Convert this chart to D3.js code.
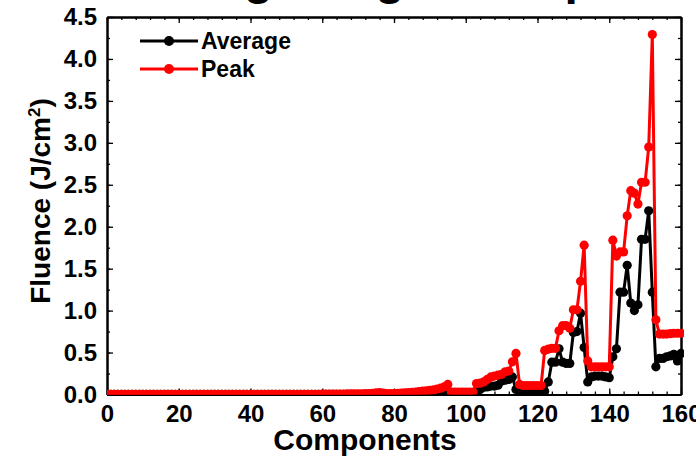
<!DOCTYPE html>
<html><head><meta charset="utf-8">
<script src="https://cdn.jsdelivr.net/npm/d3@7"></script>
<style>
body{margin:0;background:#fff}
svg{display:block}
text{font-family:Arial,"Liberation Sans",sans-serif;font-weight:bold;fill:#000}
</style>
</head><body>
<svg id="chart" width="696" height="457"></svg>
<script>
// ---- data ----
const components = d3.range(0, 161);
const average = [
 0.001,0.001,0.001,0.001,0.001,0.001,0.001,0.001,0.001,0.001,
 0.001,0.001,0.001,0.001,0.001,0.001,0.001,0.001,0.001,0.001,
 0.001,0.001,0.001,0.001,0.001,0.001,0.001,0.001,0.001,0.001,
 0.001,0.001,0.001,0.001,0.001,0.001,0.001,0.001,0.001,0.001,
 0.001,0.001,0.001,0.001,0.001,0.001,0.001,0.001,0.001,0.001,
 0.001,0.001,0.001,0.001,0.001,0.001,0.001,0.001,0.001,0.001,
 0.001,0.001,0.001,0.001,0.001,0.001,0.001,0.001,0.001,0.001,
 0.001,0.001,0.001,0.002,0.003,0.004,0.004,0.003,0.002,0.002,
 0.002,0.003,0.004,0.005,0.006,0.007,0.008,0.009,0.010,0.011,
 0.012,0.015,0.020,0.025,0.030,0.040,0.005,0.005,0.005,0.005,
 0.005,0.005,0.005,0.040,0.060,0.085,0.090,0.100,0.100,0.110,
 0.160,0.170,0.180,0.210,0.060,0.040,0.040,0.040,0.040,0.040,
 0.040,0.040,0.040,0.150,0.385,0.385,0.545,0.385,0.370,0.370,
 0.740,0.750,0.970,0.560,0.150,0.210,0.220,0.220,0.220,0.210,
 0.200,0.450,0.545,1.220,1.220,1.540,1.090,1.000,1.070,1.850,
 1.850,2.190,1.220,0.330,0.430,0.430,0.450,0.460,0.480,0.400,
 0.490
];
const peak = [
 0.003,0.003,0.003,0.003,0.003,0.003,0.003,0.003,0.003,0.003,
 0.003,0.003,0.003,0.003,0.003,0.003,0.003,0.003,0.003,0.003,
 0.003,0.003,0.003,0.003,0.003,0.003,0.003,0.003,0.003,0.003,
 0.003,0.003,0.003,0.003,0.003,0.003,0.003,0.003,0.003,0.003,
 0.003,0.003,0.003,0.003,0.003,0.003,0.003,0.003,0.003,0.003,
 0.003,0.003,0.003,0.003,0.003,0.003,0.003,0.003,0.003,0.003,
 0.004,0.004,0.005,0.005,0.005,0.006,0.006,0.007,0.007,0.008,
 0.008,0.009,0.010,0.012,0.015,0.020,0.022,0.018,0.012,0.010,
 0.012,0.015,0.018,0.020,0.022,0.025,0.030,0.035,0.040,0.045,
 0.050,0.055,0.065,0.075,0.090,0.120,0.030,0.030,0.030,0.030,
 0.030,0.030,0.030,0.130,0.135,0.150,0.180,0.210,0.220,0.230,
 0.240,0.270,0.280,0.390,0.490,0.120,0.107,0.107,0.107,0.107,
 0.107,0.107,0.525,0.540,0.550,0.550,0.760,0.820,0.820,0.790,
 1.010,1.010,1.350,1.780,0.400,0.330,0.330,0.330,0.330,0.330,
 0.330,1.840,1.650,1.700,1.700,2.130,2.430,2.400,2.270,2.530,
 2.530,2.950,4.290,0.890,0.720,0.720,0.720,0.725,0.730,0.730,
 0.730
];
const seriesNames = ["Average", "Peak"];
const seriesColors = ["#000000", "#ff0000"];
const xMajorTicks = [0, 20, 40, 60, 80, 100, 120, 140, 160];
const yMajorTicks = [0, 0.5, 1.0, 1.5, 2.0, 2.5, 3.0, 3.5, 4.0, 4.5];
const xTitle = "Components";
const titleText = "Large Angle Components";

// ---- layout ----
const L = 107, R = 681, T = 17, B = 394.5;
const svg = d3.select("#chart");
const x = d3.scaleLinear().domain([0, 160]).range([L, R]);
const y = d3.scaleLinear().domain([0, 4.5]).range([B, T]);
const xMinor = d3.range(0, 161, 4);
const yMinor = d3.range(0, 4.51, 0.25);

// title, mostly above the top edge (only its descenders show)
svg.append("text").attr("x", 169).attr("y", -6).attr("text-anchor", "start")
  .style("font-size", "48px").text(titleText);

svg.append("defs").append("clipPath").attr("id", "clip")
  .append("rect").attr("x", L).attr("y", T - 6).attr("width", R - L + 3).attr("height", B - T + 6);

function styleAxis(g) {
  g.selectAll("path.domain").attr("stroke", "#000").attr("stroke-width", 2);
  g.selectAll(".tick line").attr("stroke", "#000").attr("stroke-width", 1.3);
}
// minor ticks
svg.append("g").attr("transform", `translate(0,${B})`)
  .call(d3.axisBottom(x).tickValues(xMinor).tickSize(-3).tickSizeOuter(0).tickFormat(""))
  .call(styleAxis);
svg.append("g").attr("transform", `translate(0,${T})`)
  .call(d3.axisTop(x).tickValues(xMinor).tickSize(-3).tickSizeOuter(0).tickFormat(""))
  .call(styleAxis);
svg.append("g").attr("transform", `translate(${L},0)`)
  .call(d3.axisLeft(y).tickValues(yMinor).tickSize(-3).tickSizeOuter(0).tickFormat(""))
  .call(styleAxis);
svg.append("g").attr("transform", `translate(${R},0)`)
  .call(d3.axisRight(y).tickValues(yMinor).tickSize(-3).tickSizeOuter(0).tickFormat(""))
  .call(styleAxis);

// major ticks + labels
const gx = svg.append("g").attr("transform", `translate(0,${B})`)
  .call(d3.axisBottom(x).tickValues(xMajorTicks).tickSize(-6).tickSizeOuter(0).tickPadding(10).tickFormat(d3.format("d")))
  .call(styleAxis);
gx.selectAll("text").style("font-size", "24px").style("font-family", "Arial, 'Liberation Sans', sans-serif").style("font-weight", "bold").attr("fill", "#000");
svg.append("g").attr("transform", `translate(0,${T})`)
  .call(d3.axisTop(x).tickValues(xMajorTicks).tickSize(-6).tickSizeOuter(0).tickFormat(""))
  .call(styleAxis);
const gy = svg.append("g").attr("transform", `translate(${L},0)`)
  .call(d3.axisLeft(y).tickValues(yMajorTicks).tickSize(-6).tickSizeOuter(0).tickPadding(10).tickFormat(d3.format(".1f")))
  .call(styleAxis);
gy.selectAll("text").style("font-size", "24px").style("font-family", "Arial, 'Liberation Sans', sans-serif").style("font-weight", "bold").attr("fill", "#000");
svg.append("g").attr("transform", `translate(${R},0)`)
  .call(d3.axisRight(y).tickValues(yMajorTicks).tickSize(-6).tickSizeOuter(0).tickFormat(""))
  .call(styleAxis);

// series
const seriesData = [average, peak];
const plot = svg.append("g").attr("clip-path", "url(#clip)");
const line = d3.line().x((d, i) => x(components[i])).y(d => y(d));
seriesData.forEach((vals, si) => {
  const g = plot.append("g");
  g.append("path").datum(vals).attr("d", line)
    .attr("fill", "none").attr("stroke", seriesColors[si]).attr("stroke-width", 3).attr("stroke-linejoin", "round");
  g.selectAll("circle").data(vals).join("circle")
    .attr("cx", (d, i) => x(components[i])).attr("cy", d => y(d)).attr("r", 4.6)
    .attr("fill", seriesColors[si]);
});

// axis titles
svg.append("text").attr("x", 365).attr("y", 450).attr("text-anchor", "middle")
  .style("font-size", "30px").text(xTitle);
const yt = svg.append("text").attr("transform", "translate(50,201) rotate(-90)")
  .attr("text-anchor", "middle").style("font-size", "28px");
yt.append("tspan").text("Fluence (J/cm");
yt.append("tspan").attr("dy", -10).style("font-size", "17px").text("2");
yt.append("tspan").attr("dy", 10).text(")");

// legend
seriesNames.forEach((name, i) => {
  const ly = 41 + i * 28;
  svg.append("line").attr("x1", 140).attr("x2", 198).attr("y1", ly).attr("y2", ly)
    .attr("stroke", seriesColors[i]).attr("stroke-width", 3);
  svg.append("circle").attr("cx", 169).attr("cy", ly).attr("r", 5).attr("fill", seriesColors[i]);
  svg.append("text").attr("x", 201).attr("y", ly + 8).style("font-size", "23px").text(name);
});
</script>
</body></html>
